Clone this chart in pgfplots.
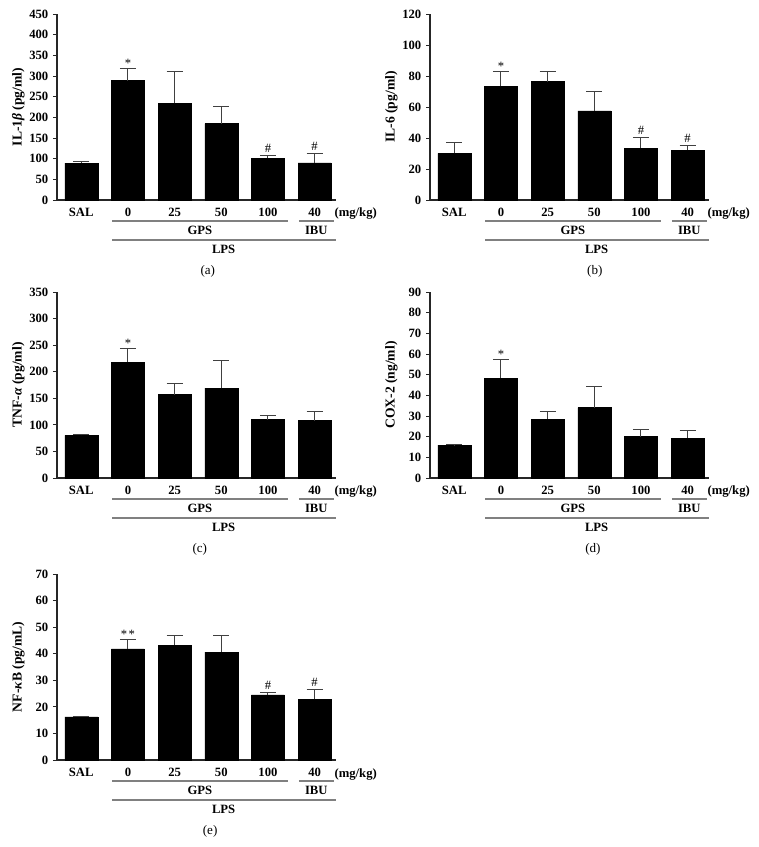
\documentclass[border=0pt]{standalone}
\usepackage{fontspec}
\setmainfont{Liberation Serif}
\usepackage{pgfplots}
\usepackage{pgfplotstable}
\pgfplotsset{compat=1.18}

\newcommand\tfont{\bfseries\fontsize{9.5}{11}\selectfont}
\newcommand\hs{\raisebox{1.5pt}{\#}}
\newcommand\dst{*\kern1pt*}

% bar values: x, mean, upper error
\pgfplotstableread{
x y e
0 89 4
1 289 30
2 234 77
3 185 42
4 101 7
5 90 22
}\ila
\pgfplotstableread{
x y t
1 319 *
4 108 \hs
5 112 \hs
}\ilastar

\pgfplotstableread{
x y e
0 30 7.2
1 73.5 9.5
2 76.3 6.8
3 57.5 12.8
4 33.5 6.8
5 32.2 3.0
}\ilb
\pgfplotstableread{
x y t
1 83 *
4 40.3 \hs
5 35.2 \hs
}\ilbstar

\pgfplotstableread{
x y e
0 80 2
1 218 25
2 157 20
3 169 52
4 110 8
5 108 17
}\tnf
\pgfplotstableread{
x y t
1 243 *
}\tnfstar

\pgfplotstableread{
x y e
0 15.9 0.3
1 48.3 9.2
2 28.5 3.7
3 34 10.2
4 20 3.5
5 19.3 3.6
}\cox
\pgfplotstableread{
x y t
1 57.5 *
}\coxstar

\pgfplotstableread{
x y e
0 16.2 0.2
1 41.8 3.4
2 43.2 3.8
3 40.6 6.1
4 24.5 0.9
5 22.8 3.7
}\nfk
\pgfplotstableread{
x y t
1 45.2 \dst
4 25.4 \hs
5 26.5 \hs
}\nfkstar

\pgfplotsset{
  panel/.style={
    width=209pt, height=139.5pt, scale only axis, clip=false,
    axis lines*=left, axis line style={-, black!85, line width=0.8pt},
    xmin=-0.52, xmax=5.45, ymin=0,
    xtick={0,...,5}, xticklabels={SAL,0,25,50,100,40},
    x tick style={draw=none}, y tick style={black!85, line width=0.6pt},
    tick align=outside, major tick length=3pt,
    ticklabel style={font=\tfont},
    xticklabel style={anchor=base, yshift=-9.75pt},
    /pgf/number format/assume math mode=true,
    ylabel style={font=\bfseries\fontsize{10.2}{12}\selectfont,
      at={([xshift=-29pt]axis description cs:0,0.5)}, anchor=center},
  },
  bars/.style={ybar, bar width=24.75pt, bar shift=0pt, fill=black, draw=black,
    error bars/.cd, y dir=plus, y explicit,
    error bar style={black!75, line width=0.75pt},
    error mark options={rotate=90, black!75, line width=0.75pt, mark size=6pt}},
  stars/.style={draw=none, mark=none, nodes near coords, point meta=explicit symbolic,
    nodes near coords style={anchor=south, inner sep=0.5pt, font=\fontsize{9.5}{10}\selectfont}},
}
\tikzset{grpline/.style={black!50, line width=0.9pt}, lbl/.style={font=\tfont, inner sep=0pt}}

\newcommand\groups[2]{%
  \draw[grpline] ([yshift=-15.75pt]axis cs:0.66,0) -- ([yshift=-15.75pt]axis cs:4.42,0);
  \draw[grpline] ([yshift=-15.75pt]axis cs:4.66,0) -- ([yshift=-15.75pt]axis cs:5.41,0);
  \draw[grpline] ([yshift=-30pt]axis cs:0.66,0) -- ([yshift=-30pt]axis cs:5.45,0);
  \node[lbl, anchor=base] at ([yshift=-26.25pt]axis cs:2.54,0) {GPS};
  \node[lbl, anchor=base] at ([yshift=-26.25pt]axis cs:5.035,0) {IBU};
  \node[lbl, anchor=base] at ([yshift=-40.5pt]axis cs:3.05,0) {LPS};
  \node[lbl, anchor=base west] at ([xshift=-1pt,yshift=-12.75pt]rel axis cs:1,0) {(mg/kg)};
  \node[inner sep=0pt, anchor=base, font=\fontsize{9.8}{11}\selectfont] at ([yshift=-56pt]axis cs:#1,0) {#2};
}

\begin{document}
\begin{tikzpicture}
\useasboundingbox (0,0) rectangle (569.25pt,635.25pt);

% (a)
\begin{axis}[panel, at={(42.75pt,485.25pt)}, anchor=south west,
  ymax=450, ytick={0,50,...,450}, ylabel={IL-1\textit{β} (pg/ml)}]
\addplot[bars] table[x=x, y=y, y error=e] {\ila};
\addplot[stars] table[x=x, y=y, meta=t] {\ilastar};
\groups{2.71}{(a)}
\end{axis}

% (b)
\begin{axis}[panel, at={(322.5pt,485.25pt)}, anchor=south west,
  ymax=120, ytick={0,20,...,120}, ylabel={IL-6 (pg/ml)}]
\addplot[bars] table[x=x, y=y, y error=e] {\ilb};
\addplot[stars] table[x=x, y=y, meta=t] {\ilbstar};
\groups{3.01}{(b)}
\end{axis}

% (c)
\begin{axis}[panel, at={(42.75pt,276.75pt)}, anchor=south west,
  ymax=350, ytick={0,50,...,350}, ylabel={TNF-\textit{α} (pg/ml)}]
\addplot[bars] table[x=x, y=y, y error=e] {\tnf};
\addplot[stars] table[x=x, y=y, meta=t] {\tnfstar};
\groups{2.54}{(c)}
\end{axis}

% (d)
\begin{axis}[panel, at={(322.5pt,276.75pt)}, anchor=south west,
  ymax=90, ytick={0,10,...,90}, ylabel={COX-2 (ng/ml)}]
\addplot[bars] table[x=x, y=y, y error=e] {\cox};
\addplot[stars] table[x=x, y=y, meta=t] {\coxstar};
\groups{2.97}{(d)}
\end{axis}

% (e)
\begin{axis}[panel, at={(42.75pt,65.25pt)}, anchor=south west,
  ymax=70, ytick={0,10,...,70}, ylabel={NF-\textit{κ}B (pg/mL)}]
\addplot[bars] table[x=x, y=y, y error=e] {\nfk};
\addplot[stars] table[x=x, y=y, meta=t] {\nfkstar};
\groups{2.76}{(e)}
\end{axis}
\end{tikzpicture}
\end{document}
